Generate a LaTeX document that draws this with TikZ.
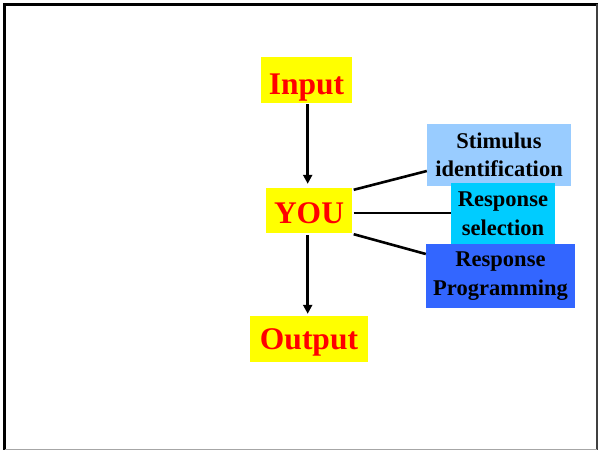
\documentclass[tikz,border=0pt]{standalone}
\usepackage{fontspec}
\setmainfont{Liberation Serif}
\usetikzlibrary{arrows.meta,calc}
\definecolor{ylw}{RGB}{255,255,0}
\definecolor{redtxt}{RGB}{255,0,0}
\definecolor{stimblue}{RGB}{153,204,255}
\definecolor{selcyan}{RGB}{0,204,255}
\definecolor{progblue}{RGB}{51,102,255}
\begin{document}
\begin{tikzpicture}[x=1pt,y=-1pt,
  bigbox/.style={fill=ylw,text=redtxt,inner sep=0pt,text depth=0pt,text height=21pt,font=\fontsize{31.5}{32}\selectfont\bfseries},
  smallbox/.style={inner sep=0pt,align=center,text=black,font=\fontsize{22.5}{28.5}\selectfont\bfseries},
  flow/.style={line width=2.6pt,-{Triangle[length=9pt,width=9pt]}},
  link/.style={line width=2.6pt}]
\useasboundingbox (0,0) rectangle (598,450);
\fill[white] (0,0) rectangle (598,450);
% frame
\draw[line width=3pt,black] (4.5,450) -- (4.5,4) -- (598,4);
\draw[line width=1.5pt,black!75] (597,4) -- (597,450);
\draw[line width=1pt,black!35] (4.5,449.5) -- (597,449.5);
% nodes
\node[bigbox,minimum width=91pt,minimum height=46pt] (in) at (306.5,80) {\raisebox{-4pt}{Input}};
\node[bigbox,minimum width=86pt,minimum height=45pt] (you) at (309,210.5) {\raisebox{-2pt}{YOU}};
\node[bigbox,minimum width=118pt,minimum height=46pt] (out) at (309,339) {Output};
\node[smallbox,fill=stimblue,minimum width=144pt,minimum height=62pt] (stim) at (499,155) {Stimulus\\identification};
\node[smallbox,fill=selcyan,minimum width=104pt,minimum height=61pt] (sel) at (503,213.5) {Response\\selection};
\node[smallbox,fill=progblue,minimum width=149pt,minimum height=64pt] (prog) at (500.5,276) {Response\\Programming};
% connectors
\draw[flow] ([xshift=-1.3pt,yshift=-1pt]you.north |- in.south) -- ([xshift=-1.3pt,yshift=4pt]you.north);
\draw[flow] ([xshift=-1.3pt,yshift=-2pt]you.south) -- ([xshift=-1.3pt,yshift=2pt]out.north);
\draw[link] ([xshift=1.5pt,yshift=-2pt]you.north east) -- ([yshift=-16pt]stim.west);
\draw[link] ([xshift=1.5pt,yshift=-2.5pt]you.east) -- ([yshift=-2.5pt]you.east -| sel.west);
\draw[link] ([xshift=1.5pt,yshift=-1pt]you.south east) -- ([yshift=22pt]prog.west);
\end{tikzpicture}
\end{document}
